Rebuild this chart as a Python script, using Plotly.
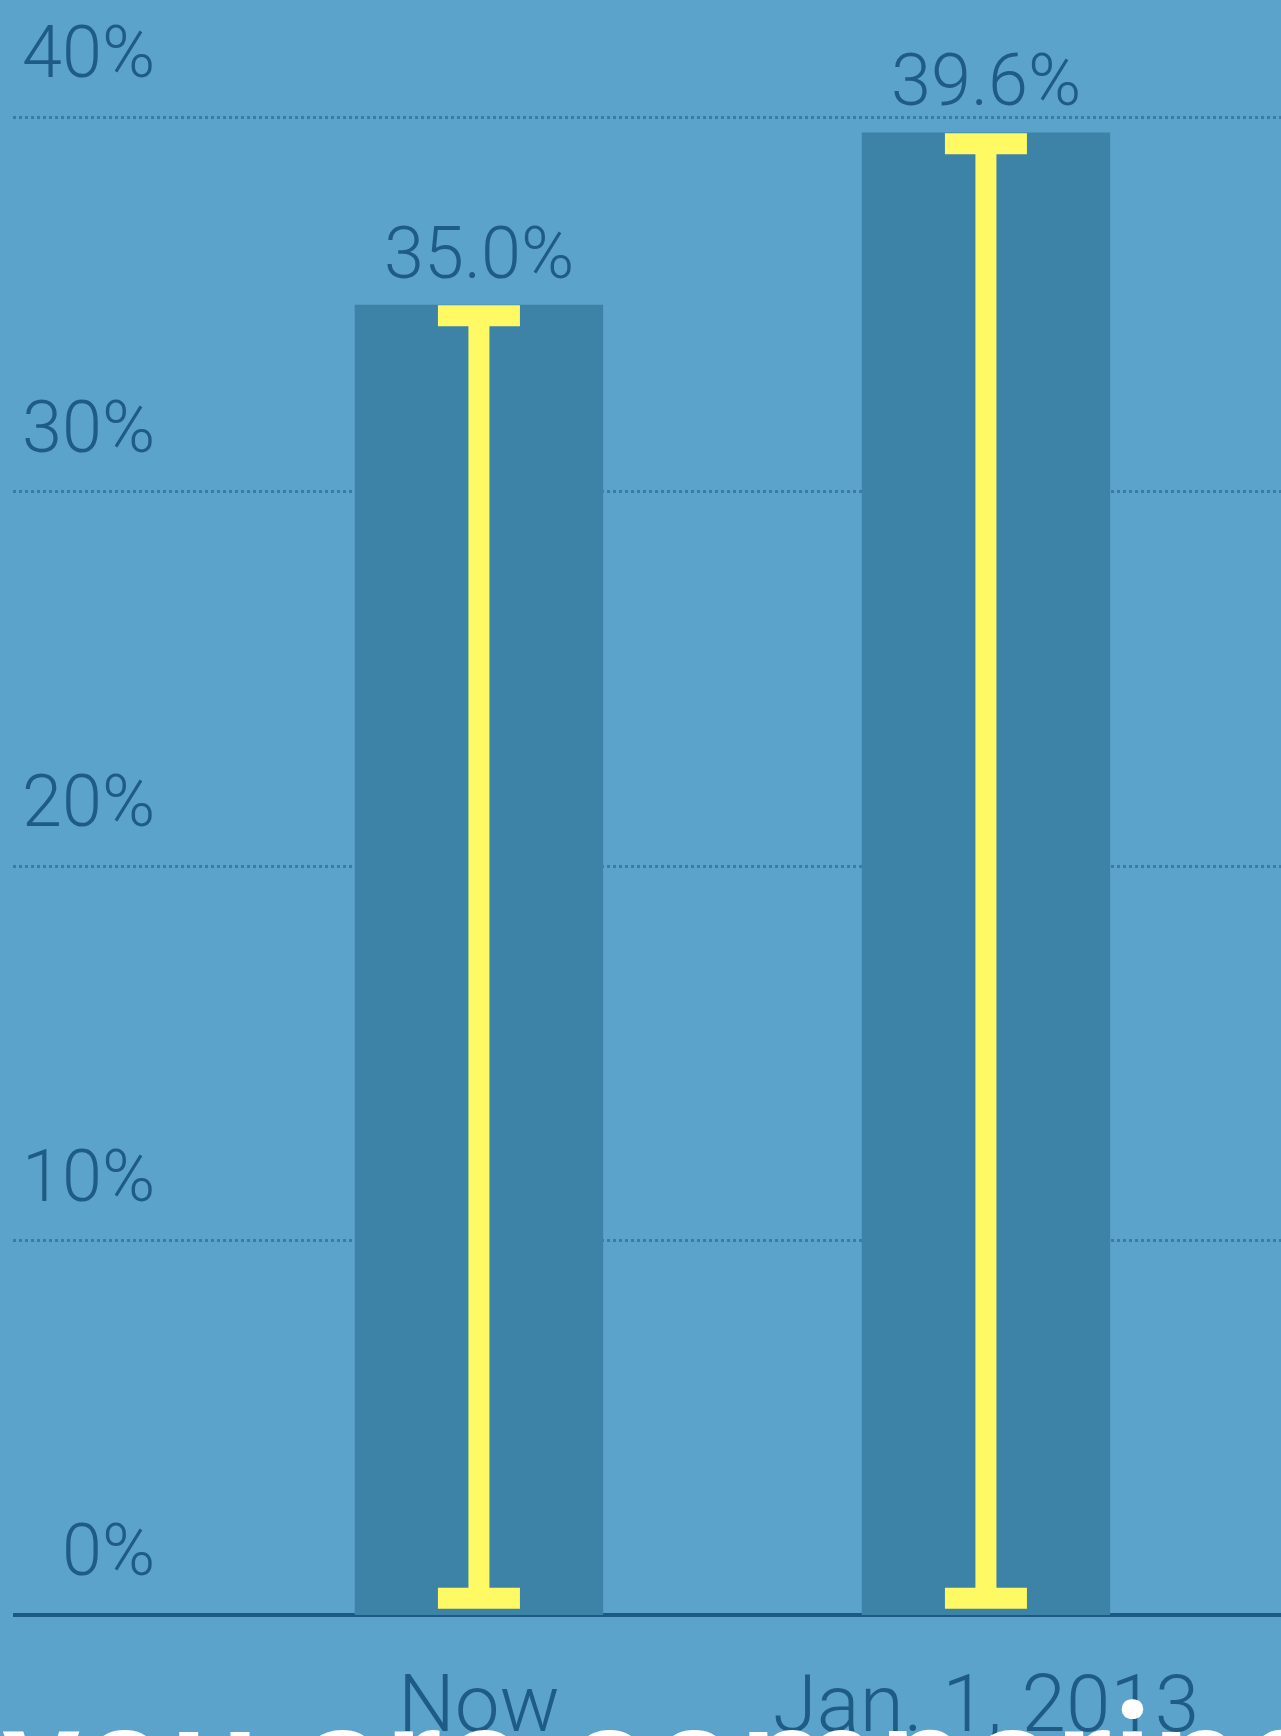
import plotly.graph_objects as go

# data
categories = ['Now', 'Jan. 1, 2013']
values = [35.0, 39.6]
value_labels = ['35.0%', '39.6%']
tick_values = [0, 10, 20, 30, 40]
tick_labels = ['0%', '10%', '20%', '30%', '40%']
caption = 'you are comparing'

BG = '#5ca3cb'
BAR = '#3d83a8'
INK = '#1f5c85'
YELLOW = '#fffa64'

# yellow I-beam sits a little inside the bar
top_inset = 0.3
bottom_inset = 0.45
beam_y = [v - top_inset for v in values]
beam_minus = [y - bottom_inset for y in beam_y]

fig = go.Figure()

fig.add_trace(go.Bar(
    x=categories, y=values,
    width=0.49,
    marker=dict(color=BAR, line=dict(width=0)),
    hoverinfo='skip'
))

fig.add_trace(go.Scatter(
    x=categories, y=beam_y,
    mode='markers',
    marker=dict(color='rgba(0,0,0,0)', size=1),
    error_y=dict(type='data', symmetric=False, array=[0, 0], arrayminus=beam_minus,
                 color=YELLOW, thickness=21, width=41),
    hoverinfo='skip'
))

# value labels above bars
for c, v, t in zip(categories, values, value_labels):
    fig.add_annotation(x=c, y=v, text=t, showarrow=False, xanchor='center', yanchor='bottom',
                       yshift=7, font=dict(family='Roboto', size=72, color=INK, weight=300))

# y tick labels sit above their gridlines, right aligned
for v, t in zip(tick_values, tick_labels):
    fig.add_annotation(x=0.1136, xref='paper', y=v, text=t, showarrow=False,
                       xanchor='right', yanchor='bottom', yshift=20,
                       font=dict(family='Roboto', size=72, color=INK, weight=300))

# big white caption at the bottom, mostly cut off
fig.add_annotation(x=-0.0103, xref='paper', y=0, yref='paper', text=caption, showarrow=False,
                   xanchor='left', yanchor='top', yshift=-51,
                   font=dict(family='Roboto', size=160, color='white', weight=500))

fig.update_xaxes(
    range=[-0.919, 1.582],
    automargin=False,
    showgrid=False, zeroline=False, showline=False, ticks='',
    tickfont=dict(family='Roboto', size=80, color=INK, weight=300),
    ticklabelstandoff=35
)
fig.update_yaxes(
    range=[0, 41],
    automargin=False,
    showticklabels=False,
    showgrid=True, gridcolor='#3a7ca6', gridwidth=3, griddash='dot',
    tickvals=tick_values,
    zeroline=True, zerolinecolor='#1b5a85', zerolinewidth=4
)
fig.update_layout(
    width=1281, height=1736,
    margin=dict(l=13, r=0, t=80, b=121),
    plot_bgcolor=BG,
    paper_bgcolor=BG,
    showlegend=False
)

fig.write_html("out.html", config={'displayModeBar': False},
               post_script="document.body.style.margin='0';")
